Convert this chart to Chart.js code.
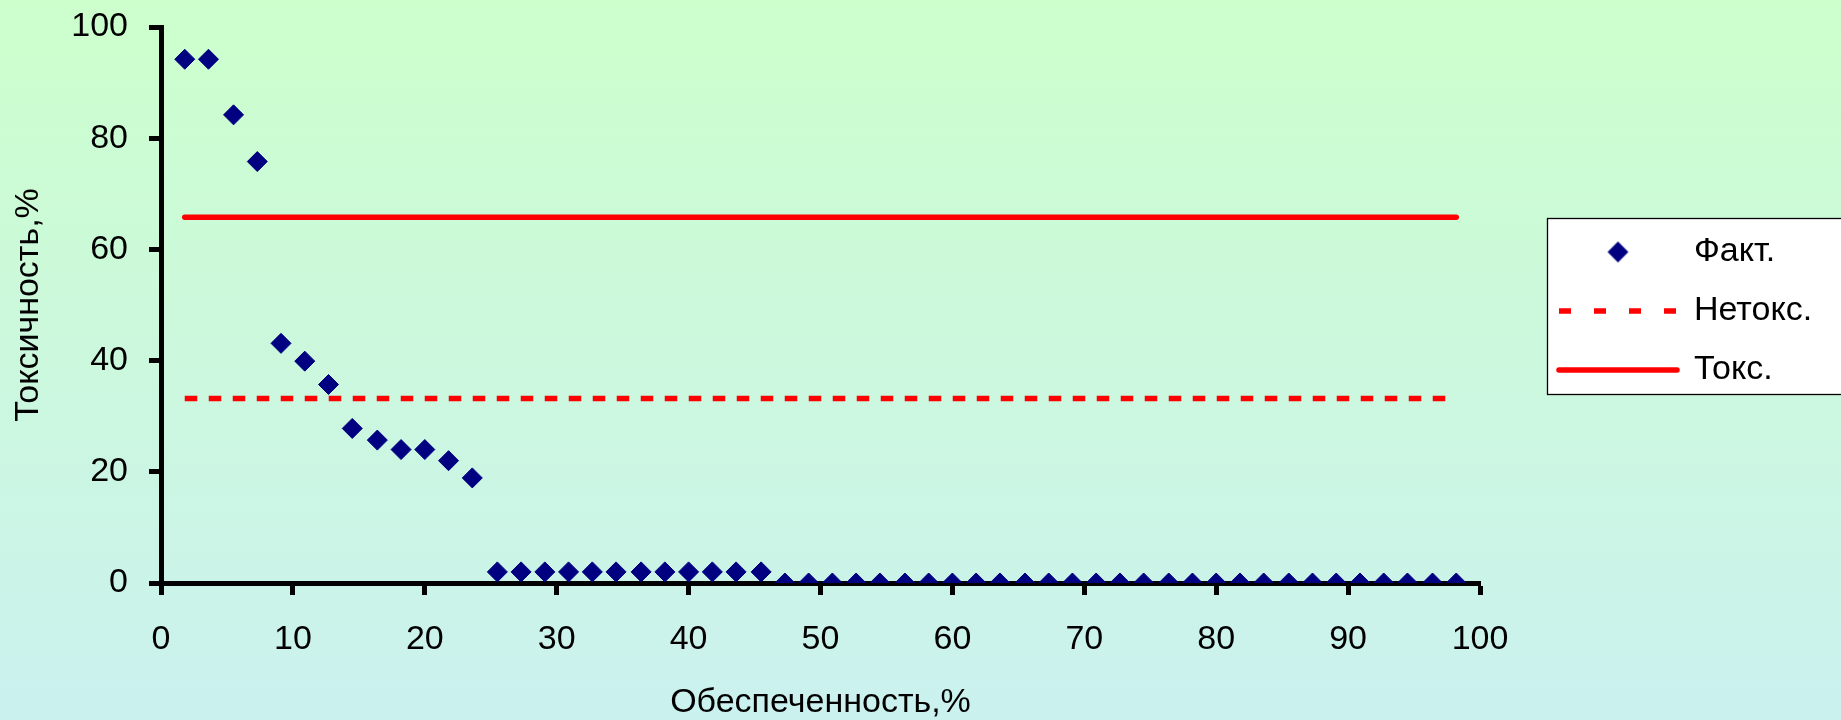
<!DOCTYPE html>
<html>
<head>
<meta charset="utf-8">
<script src="https://cdn.jsdelivr.net/npm/chart.js@4.4.0/dist/chart.umd.min.js"></script>
<style>
  html, body { margin: 0; padding: 0; background: #CCFFCC; }
  canvas { display: block; }
</style>
</head>
<body>
<canvas id="chart" width="1841" height="720"></canvas>
<script>
// ---- Data ----
const seriesNames = ['Факт.', 'Нетокс.', 'Токс.'];

const factX = [1.8, 3.6, 5.5, 7.3, 9.1, 10.9, 12.7, 14.5, 16.4, 18.2, 20.0, 21.8, 23.6,
  25.5, 27.3, 29.1, 30.9, 32.7, 34.5, 36.4, 38.2, 40.0, 41.8, 43.6, 45.5,
  47.3, 49.1, 50.9, 52.7, 54.5, 56.4, 58.2, 60.0, 61.8, 63.6, 65.5, 67.3, 69.1, 70.9,
  72.7, 74.5, 76.4, 78.2, 80.0, 81.8, 83.6, 85.5, 87.3, 89.1, 90.9, 92.7, 94.5, 96.4, 98.2];
const factY = [94.2, 94.2, 84.2, 75.8, 43.1, 39.9, 35.7, 27.8, 25.7, 24.0, 24.0, 22.0, 18.9,
  2, 2, 2, 2, 2, 2, 2, 2, 2, 2, 2, 2,
  0, 0, 0, 0, 0, 0, 0, 0, 0, 0, 0, 0, 0, 0,
  0, 0, 0, 0, 0, 0, 0, 0, 0, 0, 0, 0, 0, 0, 0];

const levelX = [1.8, 98.2];
const nontoxY = [33.2, 33.2];
const toxY = [65.8, 65.8];

const xTickValues = [0, 10, 20, 30, 40, 50, 60, 70, 80, 90, 100];
const yTickValues = [0, 20, 40, 60, 80, 100];

const xTitle = 'Обеспеченность,%';
const yTitle = 'Токсичность,%';

// ---- Styling ----
const FONT = "'Liberation Sans', Arial, sans-serif";
const NAVY = '#000080';
const RED = '#FF0000';

function pairs(xs, ys) { return xs.map((x, i) => ({ x: x, y: ys[i] })); }

function makeDiamond(r, color) {
  const s = Math.ceil(2 * r + 2);
  const c = document.createElement('canvas');
  c.width = s; c.height = s;
  const g = c.getContext('2d');
  g.fillStyle = color;
  g.beginPath();
  g.moveTo(s / 2, s / 2 - r);
  g.lineTo(s / 2 + r, s / 2);
  g.lineTo(s / 2, s / 2 + r);
  g.lineTo(s / 2 - r, s / 2);
  g.closePath();
  g.fill();
  return c;
}
const legendDiamond = makeDiamond(10.4, NAVY);

const bgPlugin = {
  id: 'bgAndLegendBox',
  beforeLayout(chart) {
    const lg = chart.legend;
    if (lg && !lg._fixedWidth) {
      const orig = lg.fit.bind(lg);
      lg.fit = function () { orig(); this.width = 307; };
      lg._fixedWidth = true;
    }
  },
  beforeDraw(chart) {
    const { ctx, width, height } = chart;
    ctx.save();
    const g = ctx.createLinearGradient(0, 0, 0, height);
    g.addColorStop(0, '#CCFFCC');
    g.addColorStop(1, '#CBF1EF');
    ctx.fillStyle = g;
    ctx.fillRect(0, 0, width, height);
    const hb = chart.legend && chart.legend.legendHitBoxes;
    if (hb && hb.length) {
      const left = hb[0].left - 12;
      const top = hb[0].top - 17;
      const last = hb[hb.length - 1];
      const bottom = last.top + last.height + 7;
      ctx.fillStyle = '#FFFFFF';
      ctx.fillRect(left, top, width - left + 5, bottom - top);
      ctx.strokeStyle = '#000000';
      ctx.lineWidth = 1.3;
      ctx.strokeRect(left + 0.5, top + 0.5, width - left + 5, bottom - top);
    }
    ctx.restore();
  }
};

const chart = new Chart(document.getElementById('chart'), {
  type: 'scatter',
  data: {
    datasets: [
      {
        label: seriesNames[0],
        data: pairs(factX, factY),
        showLine: false,
        pointStyle: 'rectRot',
        pointRadius: 10,
        pointHoverRadius: 10,
        pointBackgroundColor: NAVY,
        pointBorderColor: NAVY,
        pointBorderWidth: 1,
        backgroundColor: NAVY,
        borderColor: NAVY
      },
      {
        label: seriesNames[1],
        data: pairs(levelX, nontoxY),
        showLine: true,
        pointRadius: 0,
        pointHoverRadius: 0,
        borderColor: RED,
        backgroundColor: RED,
        borderWidth: 5.5,
        borderDash: [12.5, 11.5],
        borderCapStyle: 'butt'
      },
      {
        label: seriesNames[2],
        data: pairs(levelX, toxY),
        showLine: true,
        pointRadius: 0,
        pointHoverRadius: 0,
        borderColor: RED,
        backgroundColor: RED,
        borderWidth: 5.5,
        borderCapStyle: 'round'
      }
    ]
  },
  options: {
    responsive: false,
    animation: false,
    devicePixelRatio: 1,
    events: [],
    layout: { padding: { top: 27, left: 0, right: 0, bottom: 0 } },
    scales: {
      x: {
        type: 'linear',
        position: 'bottom',
        min: 0,
        max: 100,
        afterBuildTicks: (s) => { s.ticks = xTickValues.map(v => ({ value: v })); },
        afterFit: (s) => { s.height = 137; s.paddingLeft = 0; s.paddingRight = 0; },
        grid: { drawOnChartArea: false, drawTicks: true, tickLength: 12, tickWidth: 5, tickColor: '#000' },
        border: { display: true, color: '#000', width: 5 },
        ticks: { color: '#000', font: { family: FONT, size: 34 }, padding: 24, maxRotation: 0, autoSkip: false },
        title: { display: true, text: xTitle, color: '#000', font: { family: FONT, size: 34, lineHeight: 1 }, padding: { top: 0, bottom: 0 } }
      },
      y: {
        type: 'linear',
        position: 'left',
        min: 0,
        max: 100,
        afterBuildTicks: (s) => { s.ticks = yTickValues.map(v => ({ value: v })); },
        afterFit: (s) => { s.width = 161; s.paddingTop = 0; s.paddingBottom = 0; },
        grid: { drawOnChartArea: false, drawTicks: true, tickLength: 12, tickWidth: 5, tickColor: '#000' },
        border: { display: true, color: '#000', width: 5 },
        ticks: { color: '#000', font: { family: FONT, size: 34 }, padding: 21 },
        title: { display: true, text: yTitle, color: '#000', font: { family: FONT, size: 34, lineHeight: 1 }, padding: { top: 12, bottom: 0 } }
      },
      gap: {
        type: 'linear',
        position: 'right',
        display: true,
        grid: { display: false, drawTicks: false },
        border: { display: false },
        ticks: { display: false },
        afterFit: (s) => { s.width = 54; s.paddingTop = 0; s.paddingBottom = 0; }
      }
    },
    plugins: {
      tooltip: { enabled: false },
      legend: {
        display: true,
        position: 'right',
        align: 'center',
        fullSize: false,
        title: { display: true, text: '', font: { family: FONT, size: 12, lineHeight: 1 }, padding: 0 },
        labels: {
          usePointStyle: true,
          pointStyleWidth: 118,
          padding: 25,
          color: '#000',
          font: { family: FONT, size: 34 },
          generateLabels: (ch) => ch.data.datasets.map((ds, i) => ({
            text: ds.label,
            datasetIndex: i,
            hidden: false,
            fontColor: '#000',
            fillStyle: i === 0 ? NAVY : RED,
            strokeStyle: i === 0 ? NAVY : RED,
            lineWidth: i === 0 ? 0 : 5.5,
            lineDash: i === 1 ? [12, 23] : [],
            lineCap: i === 2 ? 'round' : 'butt',
            pointStyle: i === 0 ? legendDiamond : 'line'
          }))
        }
      }
    }
  },
  plugins: [bgPlugin]
});
</script>
</body>
</html>
